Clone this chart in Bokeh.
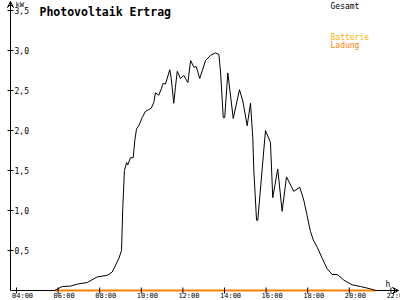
from bokeh.plotting import figure
from bokeh.models import Range1d, Arrow, VeeHead, Label
from bokeh.core.properties import value
from bokeh.embed import file_html
from bokeh.resources import INLINE

# ---- data (hours of day, kW) ----
hours = [5.83, 6.20, 6.60, 6.92, 7.40, 7.88, 8.36, 8.60, 8.92, 9.05, 9.11, 9.19,
         9.29, 9.35, 9.48, 9.61, 9.69, 9.77, 9.88, 10.04, 10.20, 10.36, 10.48,
         10.60, 10.68, 10.84, 10.96, 11.05, 11.16, 11.37, 11.44, 11.56, 11.64,
         11.73, 11.88, 12.04, 12.24, 12.37, 12.53, 12.64, 12.81, 13.09, 13.33,
         13.57, 13.73, 13.81, 13.94, 14.01, 14.16, 14.42, 14.72, 14.88, 15.09,
         15.25, 15.36, 15.41, 15.54, 15.60, 15.97, 16.21, 16.32, 16.56, 16.77,
         16.98, 17.33, 17.62, 17.81, 17.97, 18.13, 18.27, 18.46, 18.70, 18.94,
         19.18, 19.42, 19.74, 20.14, 20.54, 21.02, 21.26]
gesamt = [0.00, 0.05, 0.055, 0.08, 0.10, 0.17, 0.19, 0.23, 0.40, 0.50, 1.04, 1.50,
          1.60, 1.57, 1.66, 1.66, 1.88, 2.02, 2.06, 2.16, 2.24, 2.26, 2.28,
          2.35, 2.47, 2.44, 2.52, 2.59, 2.58, 2.76, 2.65, 2.34, 2.54,
          2.74, 2.65, 2.69, 2.60, 2.875, 2.79, 2.80, 2.65, 2.875, 2.94,
          2.97, 2.95, 2.73, 2.16, 2.16, 2.72, 2.15, 2.51, 2.37, 2.06,
          2.34, 1.91, 1.50, 0.88, 0.875, 2.00, 1.85, 1.16, 1.52, 0.99,
          1.42, 1.24, 1.29, 1.13, 0.94, 0.74, 0.63, 0.54, 0.40, 0.27,
          0.20, 0.20, 0.13, 0.07, 0.05, 0.02, 0.00]
batt_hours = [5.83, 21.26]
batt_ladung = [0.0, 0.0]

x_ticks = [4, 6, 8, 10, 12, 14, 16, 18, 20, 22]
x_labels = ["04:00", "06:00", "08:00", "10:00", "12:00", "14:00", "16:00",
            "18:00", "20:00", "22:00"]
y_ticks = [0.5, 1.0, 1.5, 2.0, 2.5, 3.0, 3.5]
y_labels = ["0,5", "1,0", "1,5", "2,0", "2,5", "3,0", "3,5"]

title = "Photovoltaik Ertrag"
legend_items = ["Gesamt", "Batterie", "Ladung"]
legend_colors = ["#000000", "#FFB000", "#FF8000"]

# ---- geometry (pixel scale helpers) ----
W, H = 400, 300
PX_PER_H = 20.8
PX_PER_KW = 80.0
x0 = 4 - 16 / PX_PER_H
x1 = x0 + W / PX_PER_H
y0 = -10 / PX_PER_KW
y1 = y0 + H / PX_PER_KW

def px_x(px):
    return x0 + px / PX_PER_H

def px_y(py):  # py from top
    return y1 - py / PX_PER_KW

dx = 1 / PX_PER_H
dy = 1 / PX_PER_KW

p = figure(width=W, height=H, output_backend="svg", toolbar_location=None,
           x_range=Range1d(x0, x1), y_range=Range1d(y0, y1),
           min_border=0, min_border_left=0, min_border_right=0,
           min_border_top=0, min_border_bottom=0)
p.axis.visible = False
p.grid.visible = False
p.outline_line_color = None
p.background_fill_color = "white"
p.border_fill_color = "white"

FONT = "DejaVu Sans Mono"
mono = value(FONT)
ax_x = px_x(10)

# axes lines
p.segment(x0=[ax_x], y0=[0], x1=[ax_x], y1=[px_y(1)], line_color="black", line_width=1)
p.segment(x0=[ax_x], y0=[0], x1=[px_x(398)], y1=[0], line_color="black", line_width=1)
p.add_layout(Arrow(end=VeeHead(size=6, line_color="black", line_width=1, fill_color=None),
                   x_start=ax_x, y_start=px_y(8), x_end=ax_x, y_end=px_y(1),
                   line_color="black", line_width=1))
p.add_layout(Arrow(end=VeeHead(size=6, line_color="black", line_width=1, fill_color=None),
                   x_start=px_x(390), y_start=0, x_end=px_x(398), y_end=0,
                   line_color="black", line_width=1))

# series
p.line(batt_hours, batt_ladung, line_color="#FF8000", line_width=2)
p.line(hours, gesamt, line_color="black", line_width=1)

# y ticks + labels
p.segment(x0=[ax_x - 3 * dx] * len(y_ticks), y0=y_ticks,
          x1=[ax_x + 3 * dx] * len(y_ticks), y1=y_ticks, line_color="black")
p.text(x=[ax_x + 4 * dx] * len(y_ticks), y=y_ticks, text=y_labels,
       text_font=mono, text_font_size="8px", text_baseline="middle",
       text_align="left", text_color="black")

# x ticks + labels
p.segment(x0=x_ticks, y0=[3 * dy] * len(x_ticks), x1=x_ticks,
          y1=[-3 * dy] * len(x_ticks), line_color="black")
p.text(x=[t - 4.5 * dx for t in x_ticks], y=[px_y(291.5)] * len(x_ticks), text=x_labels,
       text_font=mono, text_font_size="7px", text_baseline="top",
       text_align="left", text_color="black")

# unit labels
p.add_layout(Label(x=px_x(15), y=px_y(0), text="kW", text_font=FONT, text_font_size="7px",
                   text_baseline="top", text_align="left", text_color="black"))

# title
p.add_layout(Label(x=px_x(39), y=px_y(11), text=title, text_font=FONT,
                   text_font_size="11.5px", text_font_style="bold",
                   text_baseline="alphabetic", text_align="left", text_color="black"))

# legend
for txt, col, top in zip(legend_items, legend_colors, [1, 32, 40]):
    p.add_layout(Label(x=px_x(330), y=px_y(top), text=txt, text_font=FONT,
                       text_font_size="8px", text_baseline="top", text_align="left",
                       text_color=col))

p.text(x=[px_x(385)], y=[px_y(284)], text=["h"], text_font=mono, text_font_size="8px",
       text_baseline="alphabetic", text_align="left", text_color="#000000", text_alpha=1.0)

open("out.html", "w").write(file_html(p, INLINE))
